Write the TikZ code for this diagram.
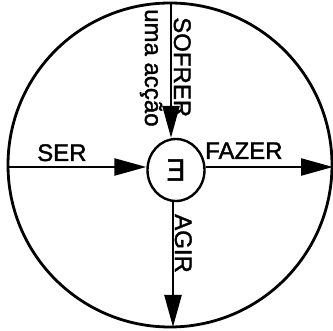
\documentclass[tikz,border=0pt]{standalone}
\usepackage{fontspec}
\setmainfont{Liberation Sans}
\newfontfamily\lblfont[RawFeature={embolden=1.5}]{Liberation Sans}
\usepackage{graphicx}
\usetikzlibrary{arrows.meta,shapes.geometric}
\tikzset{
  axis/.style={line width=2.4pt},
  bigarrow/.style={axis,-{Triangle[length=32pt,width=17pt]}},
  lbl/.style={inner sep=0pt,font=\lblfont\fontsize{24}{27}\selectfont},
  vlbl/.style={lbl,rotate=-90,anchor=base west},
}
\begin{document}
\begin{tikzpicture}[x={(1pt,0)},y={(0,-1pt)}]
\useasboundingbox (0,0) rectangle (333,331);
% outer circle
\node[draw,circle,line width=2.8pt,minimum size=324pt,inner sep=0pt] (outer) at (170,165) {};
% central ellipse with the existential sign
\node[draw,ellipse,line width=2.4pt,minimum width=57pt,minimum height=62pt,inner sep=0pt,
      font=\lblfont\fontsize{31}{33}\selectfont] (e) at (176,170) {\raisebox{-1pt}{\scalebox{-0.9}[1]{E}}};
% end points on the outer circle
\coordinate (top) at (171,3);
\coordinate (bot) at (173,327);
\coordinate (left) at (8,167);
\coordinate (right) at (333,167);
% connectors
\draw[bigarrow] (top) -- (top |- e.north);
\draw[bigarrow] (left) -- (e.west |- left);
\draw[bigarrow] (e.east |- right) -- (right);
\draw[bigarrow] (bot |- e.south) -- (bot);
% labels
\node[vlbl] (sofrer) at (174,17) {SOFRER};
\node[vlbl] (acao) at (145,9) {uma acção};
\node[vlbl] (agir) at (175,214) {AGIR};
\node[lbl,anchor=base west] (ser) at (37,161) {SER};
\node[lbl,anchor=base west] (fazer) at (205,159) {FAZER};
\end{tikzpicture}
\end{document}
